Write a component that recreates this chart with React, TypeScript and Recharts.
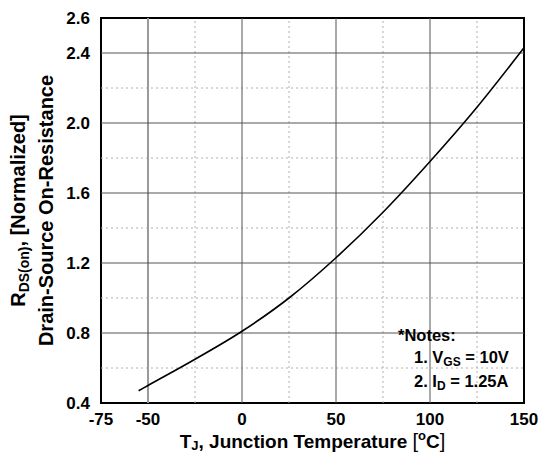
import React from 'react';
import {
    LineChart,
    Line,
    XAxis,
    YAxis,
    ReferenceLine,
    ReferenceArea
} from 'recharts';

// junction temperature (°C) and normalized on-resistance
const temps = [-55, -50, -25, 0, 25, 50, 75, 100, 125, 150];
const rdsOn = [0.47, 0.50, 0.65, 0.81, 1.0, 1.23, 1.49, 1.78, 2.09, 2.43];

const xTicks = [-75, -50, 0, 50, 100, 150];
const yTicks = [0.4, 0.8, 1.2, 1.6, 2.0, 2.4, 2.6];
const xMajor = [-50, 0, 50, 100];
const xMinor = [-25, 25, 75, 125];
const yMajor = [0.8, 1.2, 1.6, 2.0, 2.4];
const yMinor = [0.6, 1.0, 1.4, 1.8, 2.2];

const data = temps.map((t, i) => ({ t, r: rdsOn[i] }));

const FONT = '"Liberation Sans", Arial, sans-serif';

const YLabel = (props: any) => {
    const vb = props.viewBox || { y: 18, height: 385 };
    const cy = vb.y + vb.height / 2;
    return (
        <g fontFamily={FONT} fontWeight="bold" fontSize={20} fill="#000">
            <text x={25} y={cy} textAnchor="middle" transform={`rotate(-90 25 ${cy})`}>
                R<tspan fontSize={14} dy={4}>DS(on)</tspan>
                <tspan dy={-4}>, [Normalized]</tspan>
            </text>
            <text x={53} y={cy} textAnchor="middle" transform={`rotate(-90 53 ${cy})`}>
                Drain-Source On-Resistance
            </text>
        </g>
    );
};

const XLabel = (props: any) => {
    const vb = props.viewBox || { x: 101, width: 423 };
    const cx = vb.x + vb.width / 2;
    return (
        <text x={cx} y={448} textAnchor="middle" fontFamily={FONT} fontWeight="bold" fontSize={19} fill="#000">
            T<tspan fontSize={13} dy={2}>J</tspan>
            <tspan dy={-2}>, Junction Temperature </tspan>
            <tspan fontWeight="normal" fontSize={20}>[</tspan>
            <tspan fontSize={13} dy={-8}>o</tspan>
            <tspan dy={8}>C</tspan>
            <tspan fontWeight="normal" fontSize={20}>]</tspan>
        </text>
    );
};

export default function App() {
    return (
        <div style={{ position: 'absolute', left: 0, top: 0, width: 540, height: 453, background: '#fff' }}>
            <LineChart
                width={540}
                height={453}
                data={data}
                margin={{ top: 18, right: 16, bottom: 0, left: 0 }}
            >
                {xMinor.map((v) => (
                    <ReferenceLine key={'xm' + v} x={v} stroke="#b0b0b0" strokeDasharray="2 3" />
                ))}
                {yMinor.map((v) => (
                    <ReferenceLine key={'ym' + v} y={v} stroke="#b0b0b0" strokeDasharray="2 3" />
                ))}
                {xMajor.map((v) => (
                    <ReferenceLine key={'xM' + v} x={v} stroke={v === -50 ? '#9a9a9a' : '#555'} strokeWidth={v === -50 ? 2 : 1} />
                ))}
                {yMajor.map((v) => (
                    <ReferenceLine key={'yM' + v} y={v} stroke="#555" />
                ))}
                <ReferenceArea x1={81} x2={150} y1={0.4} y2={0.886} fill="#fff" fillOpacity={1} stroke="none" />
                <XAxis
                    dataKey="t"
                    type="number"
                    domain={[-75, 150]}
                    ticks={xTicks}
                    allowDataOverflow
                    height={50}
                    axisLine={false}
                    tickLine={false}
                    tickSize={0}
                    tickMargin={10}
                    tick={{ fill: '#000', fontSize: 17, fontWeight: 'bold', fontFamily: FONT }}
                    label={<XLabel />}
                />
                <YAxis
                    type="number"
                    domain={[0.4, 2.6]}
                    ticks={yTicks}
                    allowDataOverflow
                    width={101}
                    axisLine={false}
                    tickLine={false}
                    tickSize={0}
                    tickMargin={11}
                    tickFormatter={(v: number) => v.toFixed(1)}
                    tick={{ fill: '#000', fontSize: 17, fontWeight: 'bold', fontFamily: FONT }}
                    label={<YLabel />}
                />
                <Line
                    type="monotone"
                    dataKey="r"
                    stroke="#000"
                    strokeWidth={1.6}
                    dot={false}
                    isAnimationActive={false}
                />
                <ReferenceArea x1={-75} x2={150} y1={0.4} y2={2.6} fill="none" stroke="#000" strokeWidth={2} />
            </LineChart>
            <svg width={540} height={453} style={{ position: 'absolute', left: 0, top: 0, pointerEvents: 'none' }}>
                <g fontFamily={FONT} fontWeight="bold" fontSize={16.5} fill="#000">
                    <text x={398} y={341}>*Notes:</text>
                    <text x={414} y={363}>
                        1. V<tspan fontSize={12} dy={3}>GS</tspan><tspan dy={-3}> = 10V</tspan>
                    </text>
                    <text x={414} y={387}>
                        2. I<tspan fontSize={12} dy={3}>D</tspan><tspan dy={-3}> = 1.25A</tspan>
                    </text>
                </g>
            </svg>
        </div>
    );
}
